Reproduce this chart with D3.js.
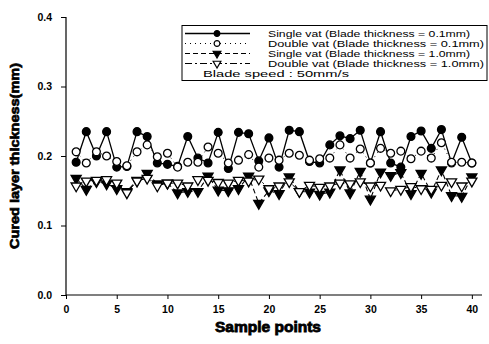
<!DOCTYPE html>
<html>
<head>
<meta charset="utf-8">
<script src="https://cdn.jsdelivr.net/npm/d3@7"></script>
<style>
  body { margin: 0; background: #fff; }
  text { font-family: "Liberation Sans", Arial, sans-serif; fill: #000; }
</style>
</head>
<body>
<div id="chart"></div>
<script>
// sample points 1..40
const samples = d3.range(1, 41);

const single01 = [0.191, 0.235, 0.2, 0.235, 0.184, 0.185, 0.235, 0.228, 0.19, 0.188,
  0.185, 0.228, 0.197, 0.19, 0.234, 0.182, 0.234, 0.232, 0.193, 0.226,
  0.184, 0.237, 0.235, 0.192, 0.19, 0.216, 0.229, 0.225, 0.237, 0.19,
  0.235, 0.19, 0.184, 0.228, 0.236, 0.211, 0.238, 0.19, 0.227, 0.19];

const double01 = [0.206, 0.19, 0.206, 0.2, 0.192, 0.186, 0.206, 0.216, 0.199, 0.204,
  0.184, 0.191, 0.191, 0.213, 0.204, 0.19, 0.194, 0.202, 0.184, 0.197,
  0.194, 0.204, 0.201, 0.194, 0.196, 0.197, 0.216, 0.197, 0.21, 0.19,
  0.211, 0.204, 0.207, 0.196, 0.207, 0.197, 0.219, 0.191, 0.191, 0.19];

const single10 = [0.168, 0.152, 0.163, 0.16, 0.153, 0.149, 0.165, 0.175, 0.16, 0.161,
  0.147, 0.149, 0.149, 0.171, 0.151, 0.15, 0.153, 0.171, 0.132, 0.15,
  0.146, 0.17, 0.149, 0.148, 0.145, 0.148, 0.18, 0.147, 0.178, 0.138,
  0.177, 0.172, 0.176, 0.146, 0.175, 0.148, 0.18, 0.143, 0.142, 0.17];

const double10 = [0.157, 0.164, 0.165, 0.166, 0.161, 0.147, 0.164, 0.168, 0.157, 0.161,
  0.161, 0.157, 0.166, 0.165, 0.162, 0.161, 0.165, 0.164, 0.167, 0.153,
  0.157, 0.163, 0.149, 0.158, 0.155, 0.157, 0.161, 0.16, 0.163, 0.157,
  0.158, 0.15, 0.152, 0.156, 0.153, 0.152, 0.158, 0.163, 0.157, 0.164];

const xTicks = [0, 5, 10, 15, 20, 25, 30, 35, 40];
const yTicks = [0.0, 0.1, 0.2, 0.3, 0.4];

const seriesNames = [
  'Single vat (Blade thickness = 0.1mm)',
  'Double vat (Blade thickness = 0.1mm)',
  'Single vat (Blade thickness = 1.0mm)',
  'Double vat (Blade thickness = 1.0mm)'
];
const legendNote = 'Blade speed : 50mm/s';

const width = 489, height = 344;
const mLeft = 66, mRight = 482, mTop = 17, mBottom = 295;

const svg = d3.select('#chart').append('svg')
  .attr('width', width)
  .attr('height', height);

const x = d3.scaleLinear().domain([0, 41]).range([mLeft, mRight]);
const y = d3.scaleLinear().domain([0, 0.4]).range([mBottom, mTop]);

// axes
svg.append('g')
  .attr('transform', `translate(0,${mBottom})`)
  .call(d3.axisBottom(x).tickValues(xTicks).tickSize(4).tickPadding(7).tickFormat(d3.format('d')))
  .call(g => g.select('.domain').attr('d', `M${mLeft},0H${mRight}`).attr('stroke-width', 1.2))
  .call(g => g.selectAll('text').attr('font-size', 10.5).attr('font-weight', 'bold'));

svg.append('g')
  .attr('transform', `translate(${mLeft},0)`)
  .call(d3.axisLeft(y).tickValues(yTicks).tickSize(5).tickPadding(9).tickFormat(d3.format('.1f')))
  .call(g => g.select('.domain').attr('d', `M0,${mTop}V${mBottom}`).attr('stroke-width', 1.2))
  .call(g => g.selectAll('text').attr('font-size', 10.5).attr('font-weight', 'bold'));

// axis titles
svg.append('text')
  .attr('x', 268)
  .attr('y', 332)
  .attr('text-anchor', 'middle')
  .attr('font-size', 14)
  .attr('font-weight', 'bold')
  .attr('stroke', '#000').attr('stroke-width', 0.8)
  .attr('textLength', 106)
  .attr('lengthAdjust', 'spacingAndGlyphs')
  .text('Sample points');

svg.append('text')
  .attr('transform', `translate(19,156) rotate(-90)`)
  .attr('text-anchor', 'middle')
  .attr('font-size', 13.5)
  .attr('font-weight', 'bold')
  .attr('stroke', '#000').attr('stroke-width', 0.7)
  .attr('textLength', 186)
  .attr('lengthAdjust', 'spacingAndGlyphs')
  .text('Cured layer thickness(mm)');

const circleSym = d3.symbol().type(d3.symbolCircle);
const triDown = d3.symbol().type(d3.symbolTriangle);

const series = [
  { name: seriesNames[0], values: single01, dash: null, lineW: 1.3, sym: circleSym, fill: '#000', rot: 0, size: 48, len: 202 },
  { name: seriesNames[1], values: double01, dash: '1,4', lineW: 1, sym: circleSym, fill: '#fff', rot: 0, size: 48, len: 216 },
  { name: seriesNames[2], values: single10, dash: '5,3', lineW: 1.1, sym: triDown, fill: '#000', rot: 180, size: 44, len: 202 },
  { name: seriesNames[3], values: double10, dash: '7,3,2,3', lineW: 1, sym: triDown, fill: '#fff', rot: 180, size: 44, len: 216 }
];

const line = d3.line()
  .x((d, i) => x(samples[i]))
  .y(d => y(d));

const plot = svg.append('g');

series.forEach(s => {
  plot.append('path')
    .datum(s.values)
    .attr('fill', 'none')
    .attr('stroke', '#000')
    .attr('stroke-width', s.lineW)
    .attr('stroke-dasharray', s.dash)
    .attr('d', line);
});

series.forEach(s => {
  plot.selectAll(null)
    .data(s.values)
    .join('path')
    .attr('transform', (d, i) => `translate(${x(samples[i])},${y(d)}) rotate(${s.rot})`)
    .attr('d', s.sym.size(s.size))
    .attr('fill', s.fill)
    .attr('stroke', '#000')
    .attr('stroke-width', 1.3);
});

// legend
const lg = svg.append('g');
lg.append('rect')
  .attr('x', 182).attr('y', 25.5)
  .attr('width', 305).attr('height', 55)
  .attr('fill', '#fff')
  .attr('stroke', '#000')
  .attr('stroke-width', 1);

series.forEach((s, i) => {
  const ly = 33.5 + i * 10;
  lg.append('line')
    .attr('x1', 185).attr('x2', 250)
    .attr('y1', ly).attr('y2', ly)
    .attr('stroke', '#000')
    .attr('stroke-width', s.lineW)
    .attr('stroke-dasharray', s.dash);
  lg.append('path')
    .attr('transform', `translate(217,${ly}) rotate(${s.rot})`)
    .attr('d', s.sym.size(26))
    .attr('fill', s.fill)
    .attr('stroke', '#000')
    .attr('stroke-width', 1.2);
  lg.append('text')
    .attr('x', 268).attr('y', ly + 3.5)
    .attr('font-size', 9)
    .attr('textLength', s.len)
    .attr('lengthAdjust', 'spacingAndGlyphs')
    .text(s.name);
});

lg.append('text')
  .attr('x', 203).attr('y', 76.5)
  .attr('font-size', 9)
  .attr('textLength', 146)
  .attr('lengthAdjust', 'spacingAndGlyphs')
  .text(legendNote);
</script>
</body>
</html>
